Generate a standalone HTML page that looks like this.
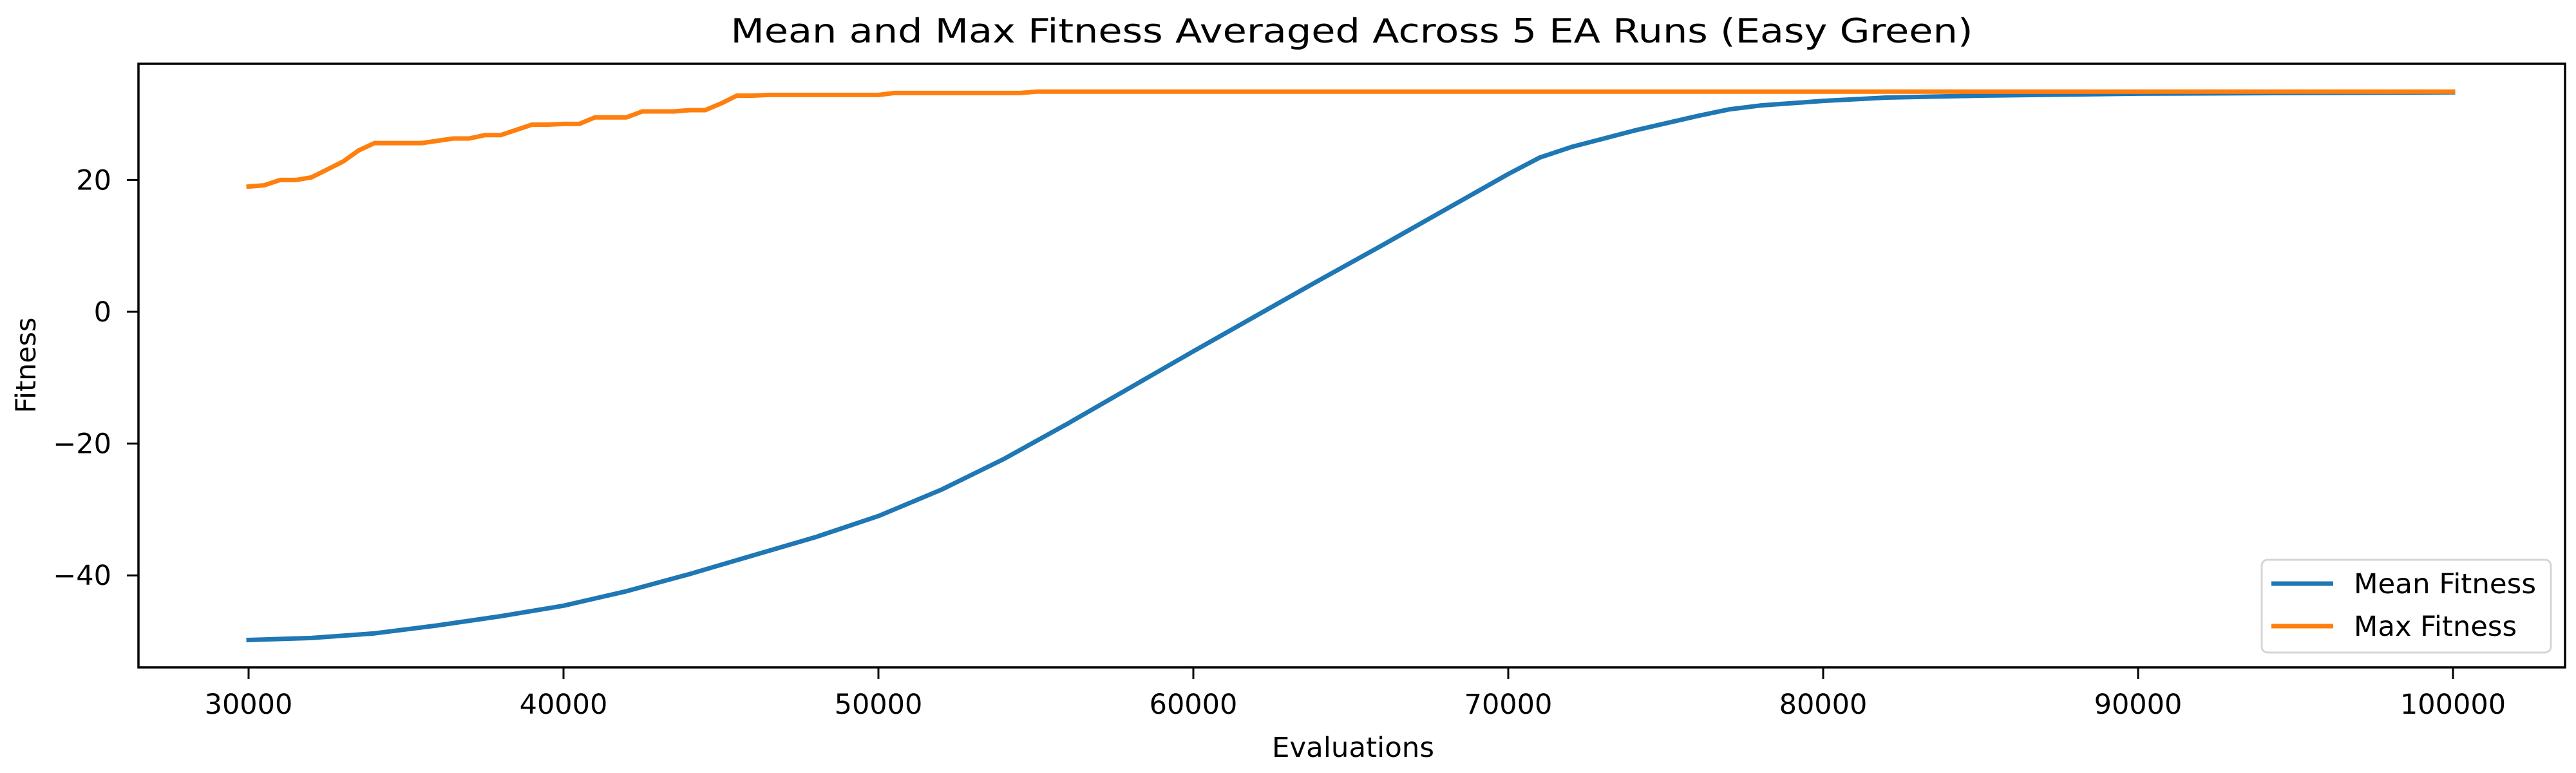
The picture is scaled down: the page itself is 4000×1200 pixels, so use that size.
<!DOCTYPE html>
<html>
<head>
<meta charset="utf-8">
<style>
html,body{margin:0;padding:0;background:#fff;}
svg{display:block;}
text{font-family:"DejaVu Sans","Liberation Sans",sans-serif;fill:#000;}
</style>
</head>
<body>
<svg id="chart" width="4000" height="1200" viewBox="0 0 4000 1200" xmlns="http://www.w3.org/2000/svg">
  <rect x="0" y="0" width="4000" height="1200" fill="#fff"/>
  <text x="2099" y="66" font-size="52" text-anchor="middle" textLength="1929" lengthAdjust="spacingAndGlyphs">Mean and Max Fitness Averaged Across 5 EA Runs (Easy Green)</text>
  <g id="plot"></g>
  <text x="2101" y="1175" font-size="43" text-anchor="middle" textLength="252" lengthAdjust="spacingAndGlyphs">Evaluations</text>
  <text x="0" y="0" font-size="43" text-anchor="middle" transform="translate(55,567) rotate(-90)">Fitness</text>
  <g>
    <rect x="3512" y="869" width="449" height="144" rx="9" ry="9" fill="#fff" fill-opacity="0.8" stroke="#d5d5d5" stroke-width="3"/>
    <line x1="3527" y1="906" x2="3623" y2="906" stroke="#1f77b4" stroke-width="7"/>
    <text x="3655" y="921" font-size="43" textLength="283" lengthAdjust="spacingAndGlyphs">Mean Fitness</text>
    <line x1="3527" y1="972" x2="3623" y2="972" stroke="#ff7f0e" stroke-width="7"/>
    <text x="3655" y="987" font-size="43" textLength="253" lengthAdjust="spacingAndGlyphs">Max Fitness</text>
  </g>
</svg>
<script>
const meanEvals = [30000,32000,34000,36000,38000,40000,42000,44000,46000,48000,50000,52000,54000,56000,58000,60000,62000,64000,66000,68000,70000,71000,72000,74000,76000,77000,78000,80000,82000,85000,90000,95000,100000];
const meanValues = [-49.8,-49.5,-48.8,-47.6,-46.2,-44.6,-42.4,-39.8,-37.0,-34.2,-31.0,-27.0,-22.3,-17.0,-11.5,-6.0,-0.6,4.8,10.1,15.5,20.9,23.4,25.0,27.5,29.7,30.7,31.3,32.0,32.5,32.8,33.1,33.2,33.3];
const maxEvals = [30000,30500,31000,31500,32000,32500,33000,33500,34000,35500,36500,37000,37500,38000,39000,39500,40000,40500,41000,42000,42500,43500,44000,44500,45000,45500,46000,46500,50000,50500,54500,55000,100000];
const maxValues = [19.0,19.2,20.0,20.0,20.4,21.6,22.8,24.5,25.6,25.6,26.3,26.3,26.8,26.8,28.4,28.4,28.5,28.5,29.5,29.5,30.4,30.4,30.6,30.6,31.6,32.8,32.8,32.9,32.9,33.2,33.2,33.4,33.4];
const xTicks = [30000,40000,50000,60000,70000,80000,90000,100000];
const yTicks = [-40,-20,0,20];

const NS = "http://www.w3.org/2000/svg";
const L = 215, R = 3983, T = 99, B = 1036;
function xs(v){ return 386 + (v - 30000) * 489 / 10000; }
function ys(v){ return 484 - v * 10.23; }
const g = document.getElementById('plot');
function mk(tag, attrs){ const e = document.createElementNS(NS, tag); for (const k in attrs) e.setAttribute(k, attrs[k]); return e; }

function series(xv, yv, color, name){
  const d = xv.map((x,i)=>(i?'L':'M')+xs(x).toFixed(1)+' '+ys(yv[i]).toFixed(1)).join(' ');
  const p = mk('path', {d:d, fill:'none', stroke:color, 'stroke-width':7, 'stroke-linejoin':'round', 'stroke-linecap':'square'});
  
  
  g.appendChild(p);
}
series(meanEvals, meanValues, '#1f77b4', 'mean-fitness-line');
series(maxEvals, maxValues, '#ff7f0e', 'max-fitness-line');

xTicks.forEach(v=>{
  const x = xs(v);
  const t = mk('line', {x1:x, y1:B, x2:x, y2:B+18, stroke:'#000', 'stroke-width':3});
  
  
  g.appendChild(t);
  const lb = mk('text', {x:x, y:1108, 'font-size':43, 'text-anchor':'middle'});
  
  
  lb.textContent = String(v);
  g.appendChild(lb);
});
yTicks.forEach(v=>{
  const y = ys(v);
  const t = mk('line', {x1:L-18, y1:y, x2:L, y2:y, stroke:'#000', 'stroke-width':3});
  
  
  g.appendChild(t);
  const lb = mk('text', {x:173, y:y+15, 'font-size':43, 'text-anchor':'end'});
  
  
  lb.textContent = v < 0 ? '\u2212' + Math.abs(v) : String(v);
  g.appendChild(lb);
});
const frame = mk('rect', {x:L, y:T, width:R-L, height:B-T, fill:'none', stroke:'#000', 'stroke-width':3.5});


g.appendChild(frame);
</script>
</body>
</html>
